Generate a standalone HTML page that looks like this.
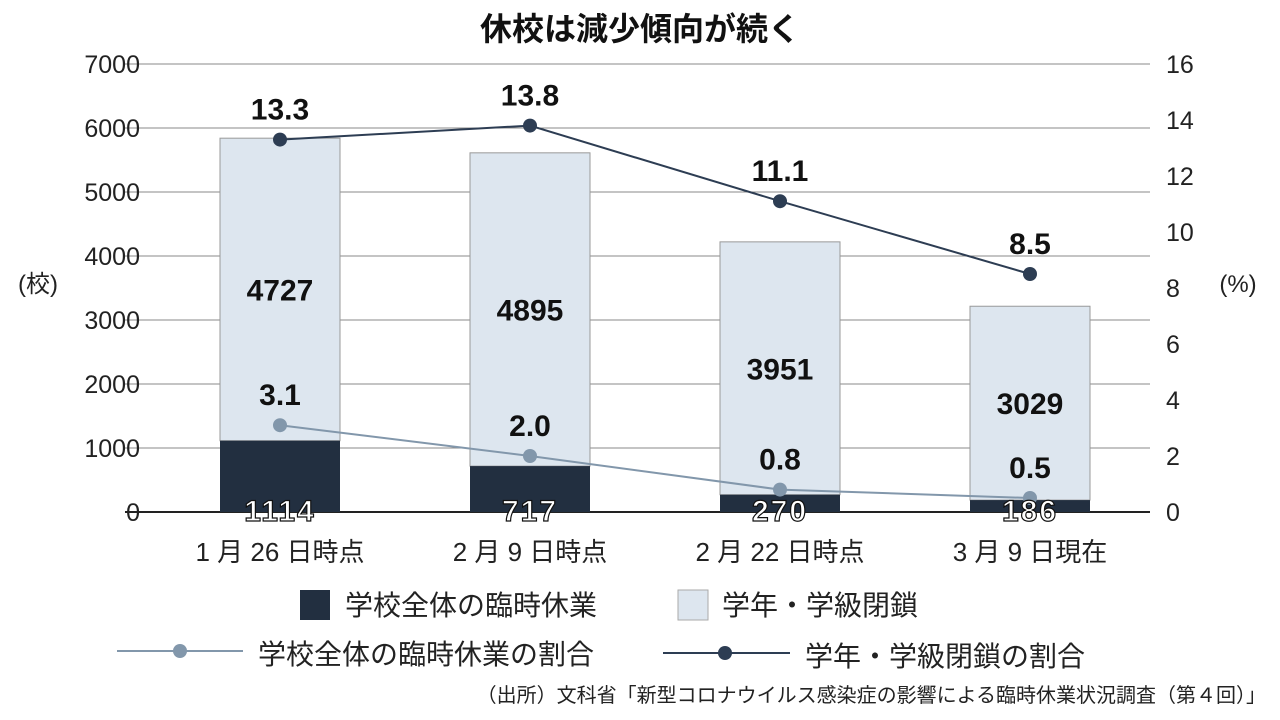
<!DOCTYPE html>
<html><head><meta charset="utf-8"><style>
html,body{margin:0;padding:0;background:#fff;}
svg{display:block;font-family:"Liberation Sans","Noto Sans CJK JP",sans-serif;}
</style></head><body>
<svg id="chart" width="1280" height="720" viewBox="0 0 1280 720">
<text x="640" y="40" text-anchor="middle" font-size="32" font-weight="bold" fill="#111">休校は減少傾向が続く</text>
<g id="grid"></g><g id="bars"></g><g id="lines"></g><g id="labels"></g>
<text x="38" y="292" text-anchor="middle" font-size="24" fill="#222">(校)</text>
<text x="1238" y="292" text-anchor="middle" font-size="24" fill="#222">(%)</text>
<g>
<rect x="300" y="590" width="30" height="30" fill="#222f40"/>
<text x="345" y="615" font-size="28" fill="#222">学校全体の臨時休業</text>
<rect x="678" y="590" width="30" height="30" fill="#dde6ef" stroke="#aaa"/>
<text x="722" y="615" font-size="28" fill="#222">学年・学級閉鎖</text>
<line x1="117" y1="651" x2="243" y2="651" stroke="#8297ab" stroke-width="2"/>
<circle cx="180" cy="651" r="7" fill="#8297ab"/>
<text x="258" y="664" font-size="28" fill="#222">学校全体の臨時休業の割合</text>
<line x1="663" y1="653" x2="790" y2="653" stroke="#2d3d53" stroke-width="2"/>
<circle cx="725" cy="653" r="7" fill="#2d3d53"/>
<text x="805" y="666" font-size="28" fill="#222">学年・学級閉鎖の割合</text>
</g>
<text x="1266" y="702" text-anchor="end" font-size="20" fill="#222">（出所）文科省「新型コロナウイルス感染症の影響による臨時休業状況調査（第４回）」</text>
</svg>
<script>
const categories = ["1 月 26 日時点","2 月 9 日時点","2 月 22 日時点","3 月 9 日現在"];
const wholeSchool = [1114, 717, 270, 186];
const classClosure = [4727, 4895, 3951, 3029];
const wholeRate = [3.1, 2.0, 0.8, 0.5];
const classRate = [13.3, 13.8, 11.1, 8.5];
const leftTicks = [0,1000,2000,3000,4000,5000,6000,7000];
const rightTicks = [0,2,4,6,8,10,12,14,16];

const NS="http://www.w3.org/2000/svg";
const X0=155, BAND=250, BW=120, Y0=512, Y1=64;
const xC=i=>X0+BAND*(i+0.5);
const yL=v=>Y0-(Y0-Y1)*v/7000;
const yR=v=>Y0-(Y0-Y1)*v/16;
function mk(tag,attrs,parent,text){const e=document.createElementNS(NS,tag);for(const k in attrs)e.setAttribute(k,attrs[k]);if(text!==undefined)e.textContent=text;parent.appendChild(e);return e;}
const grid=document.getElementById('grid'),bars=document.getElementById('bars'),lines=document.getElementById('lines'),labels=document.getElementById('labels');
leftTicks.forEach(t=>{
  const l=mk('line',{x1:125,x2:1150,y1:yL(t),y2:yL(t),stroke:t===0?'#222':'#888','stroke-width':t===0?2:1},grid);
  
  
  const tx=mk('text',{x:140,y:yL(t)+9,'text-anchor':'end','font-size':25,fill:'#222'},grid,String(t));
  
  
});
rightTicks.forEach(t=>{
  const tx=mk('text',{x:1166,y:yR(t)+9,'font-size':25,fill:'#222'},grid,String(t));
  
  
});
categories.forEach((c,i)=>{
  const x=xC(i)-BW/2;
  const top=wholeSchool[i]+classClosure[i];
  const r2=mk('rect',{x:x,y:yL(top),width:BW,height:yL(wholeSchool[i])-yL(top),fill:'#dde6ef',stroke:'#999','stroke-width':1},bars);
  
  
  const r1=mk('rect',{x:x,y:yL(wholeSchool[i]),width:BW,height:Y0-yL(wholeSchool[i]),fill:'#222f40'},bars);
  
  
  const ct=mk('text',{x:xC(i),y:(yL(top)+yL(wholeSchool[i]))/2+11,'text-anchor':'middle','font-size':30,'font-weight':'bold',fill:'#111'},labels,String(classClosure[i]));
  
  
  const cy=Math.max((yL(wholeSchool[i])+Y0)/2,510);
  const wt=mk('text',{x:xC(i),y:cy+11,'text-anchor':'middle','font-size':30,'font-weight':'bold',fill:'#fff',stroke:'#111','stroke-width':1.2,'letter-spacing':2},labels,String(wholeSchool[i]));
  
  
  const xl=mk('text',{x:xC(i),y:561,'text-anchor':'middle','font-size':26,fill:'#222'},labels,c);
  
  
});
function series(vals,color,name){
  const pts=vals.map((v,i)=>xC(i)+','+yR(v)).join(' ');
  const pl=mk('polyline',{points:pts,fill:'none',stroke:color,'stroke-width':2},lines);
  
  
  vals.forEach((v,i)=>{
    const c=mk('circle',{cx:xC(i),cy:yR(v),r:7,fill:color},lines);
    
    
    const t=mk('text',{x:xC(i),y:yR(v)-20,'text-anchor':'middle','font-size':30,'font-weight':'bold',fill:'#111'},labels,v.toFixed(1));
    
    
  });
}
series(wholeRate,'#8297ab','whole-rate');
series(classRate,'#2d3d53','class-rate');
</script>
</body></html>
